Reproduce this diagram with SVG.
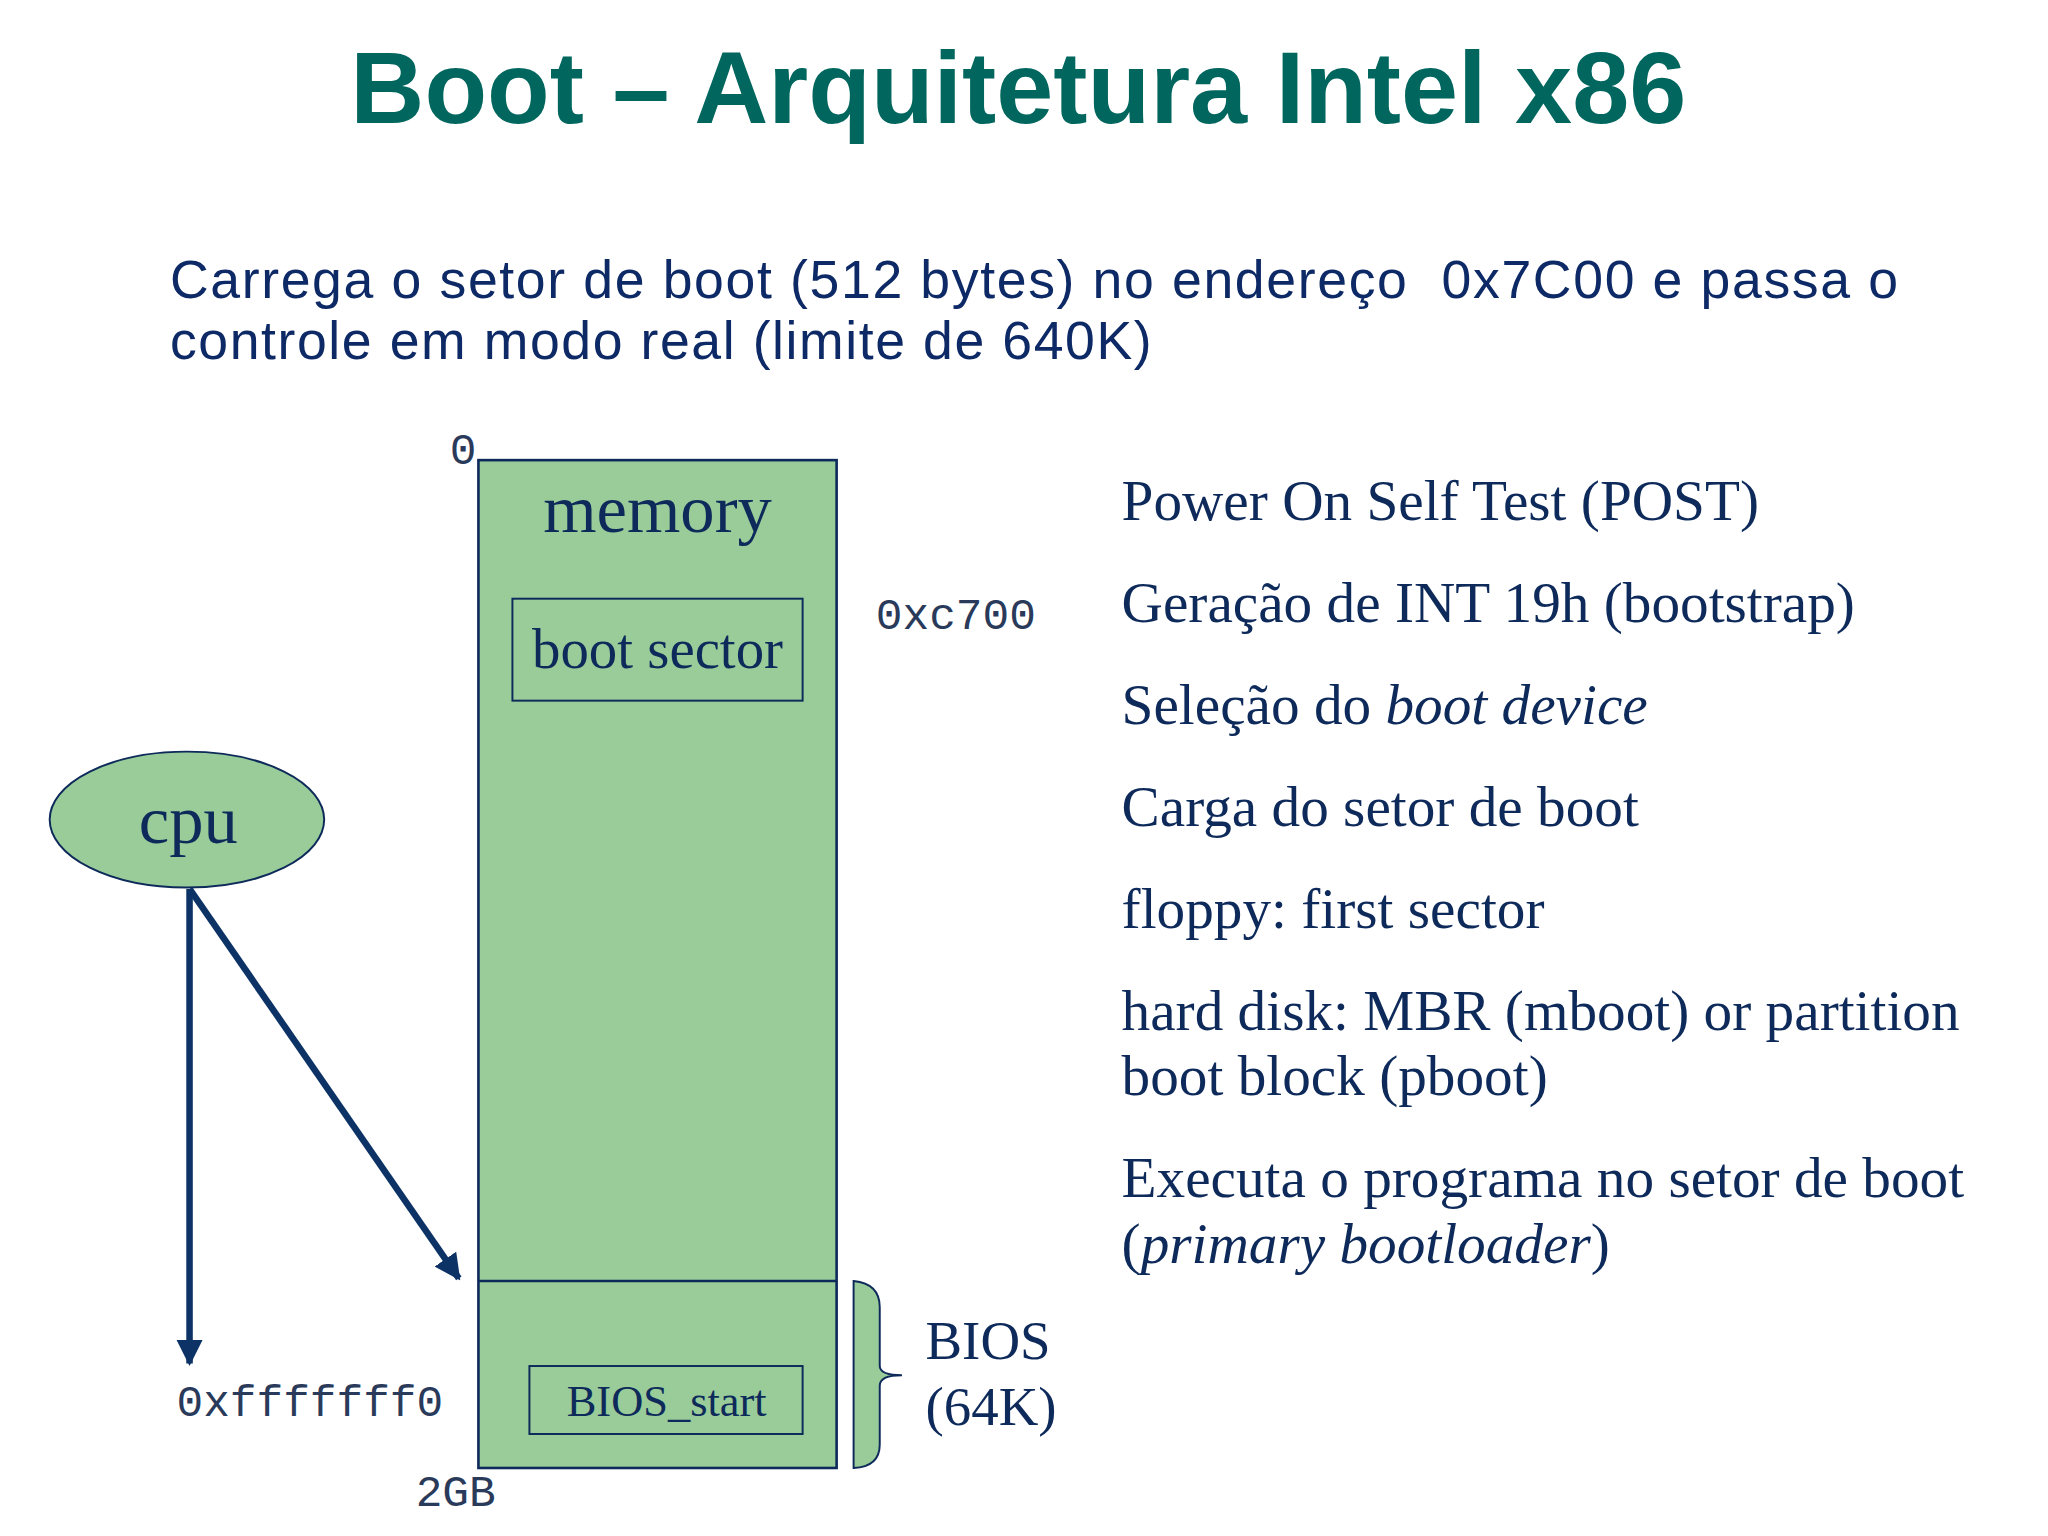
<svg xmlns="http://www.w3.org/2000/svg" width="2048" height="1536" viewBox="0 0 2048 1536">
<style>
.t{font-family:"Liberation Serif",serif;fill:#0d2a5a}
.m{font-family:"Liberation Mono",monospace;fill:#2a3a5a;font-size:34px}
.s{font-family:"Liberation Sans",sans-serif;fill:#0d2a66;font-size:41px}
.box{fill:#99cc99;stroke:#0d2a5a;stroke-width:2}
.c{stroke:#0d3366;stroke-width:5;fill:none}
</style>
<defs><marker id="a" viewBox="0 0 10 10" refX="9" refY="5" markerWidth="4" markerHeight="4" orient="auto"><path d="M0,0L10,5L0,10z" fill="#0d3366"/></marker></defs>
<rect width="2048" height="1536" fill="#fff"/>
<g transform="scale(1.3072)">
<text x="779" y="94" text-anchor="middle" style="font-family:'Liberation Sans',sans-serif;font-weight:bold;font-size:78.5px;fill:#00665e">Boot – Arquitetura Intel x86</text>
<text class="s" x="130" y="228" textLength="1322" xml:space="preserve">Carrega o setor de boot (512 bytes) no endereço  0x7C00 e passa o</text>
<text class="s" x="130" y="275" textLength="751">controle em modo real (limite de 640K)</text>
<g id="memory">
<rect class="box" x="366" y="352" width="274" height="771"/>
<line x1="366" y1="980" x2="640" y2="980" stroke="#0d2a5a" stroke-width="2"/>
<text class="t" x="503" y="407" text-anchor="middle" font-size="52.5">memory</text>
<text class="m" x="344" y="355">0</text>
<text class="m" x="318" y="1152">2GB</text>
</g>
<g id="bootsector">
<rect x="392" y="458" width="222" height="78" fill="none" stroke="#0d2a5a" stroke-width="1.5"/>
<text class="t" x="503" y="511" text-anchor="middle" font-size="43.5">boot sector</text>
<text class="m" x="670" y="481">0xc700</text>
</g>
<g id="biosstart">
<rect x="405" y="1045" width="209" height="52" fill="none" stroke="#0d2a5a" stroke-width="1.5"/>
<text class="t" x="510" y="1083" text-anchor="middle" font-size="34">BIOS_start</text>
<text class="m" x="135" y="1083">0xfffffff0</text>
</g>
<g id="cpu">
<ellipse cx="143" cy="627" rx="105" ry="52" fill="#99cc99" stroke="#0d2a5a" stroke-width="1.5"/>
<text class="t" x="144" y="645" text-anchor="middle" font-size="52.5">cpu</text>
</g>
<g id="bios">
<path d="M653,980 Q673,982 673,1000 L673,1045 Q673,1052 690,1052 Q673,1052 673,1060 L673,1105 Q673,1122 653,1123 Z" fill="#99cc99" stroke="#0d2a5a" stroke-width="1.5"/>
<text class="t" x="708" y="1040" font-size="42">BIOS</text>
<text class="t" x="708" y="1090" font-size="42">(64K)</text>
</g>
<g id="connectors">
<line class="c" x1="145" y1="680" x2="145" y2="1043" marker-end="url(#a)"/>
<line class="c" x1="145" y1="680" x2="351" y2="978" marker-end="url(#a)"/>
</g>
<g id="list" class="t" font-size="43.8">
<text x="858" y="398">Power On Self Test (POST)</text>
<text x="858" y="476">Geração de INT 19h (bootstrap)</text>
<text x="858" y="554">Seleção do <tspan font-style="italic">boot device</tspan></text>
<text x="858" y="632">Carga do setor de boot</text>
<text x="858" y="710">floppy: first sector</text>
<text x="858" y="788">hard disk: MBR (mboot) or partition</text>
<text x="858" y="838">boot block (pboot)</text>
<text x="858" y="916">Executa o programa no setor de boot</text>
<text x="858" y="966">(<tspan font-style="italic">primary bootloader</tspan>)</text>
</g>
</g>
</svg>
